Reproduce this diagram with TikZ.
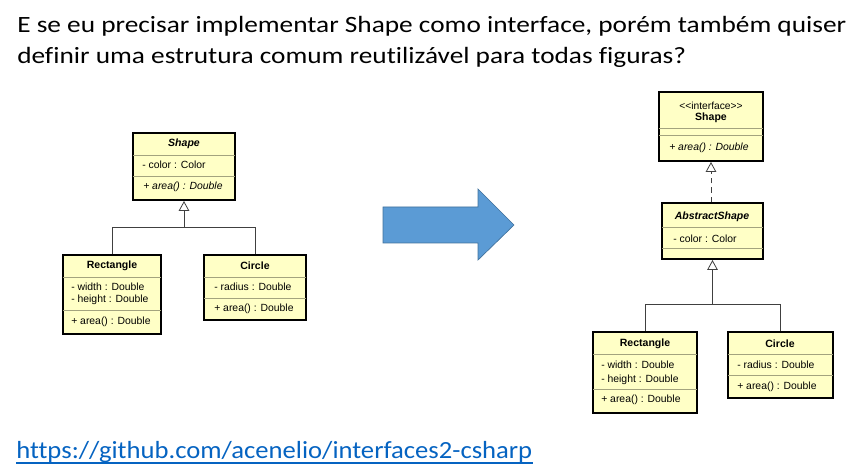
\documentclass[tikz,border=0pt]{standalone}
\usepackage{fontspec}
\setmainfont{Liberation Sans}
\newfontfamily\calibri[FakeStretch=1.17, Ligatures=NoCommon]{Carlito}
\newfontfamily\calibrilink[FakeStretch=1.08, Ligatures=NoCommon]{Carlito}
\usepackage{tikz}
\usetikzlibrary{positioning,fit,arrows.meta}
\usepackage{xcolor}
\definecolor{umlfill}{HTML}{FFFFC6}
\definecolor{umlsep}{HTML}{A3A37E}
\definecolor{linkblue}{HTML}{0563C1}
\definecolor{arrowfill}{HTML}{5B9BD5}
\definecolor{arrowline}{HTML}{41719C}

\begin{document}
\begin{tikzpicture}[x=0.75pt,y=-0.75pt,
  classbox/.style={draw=black, line width=1.5pt, fill=umlfill, inner sep=0pt},
  sepline/.style={umlsep, line width=0.6pt},
  ctitle/.style={font=\fontsize{7.9}{9}\selectfont\bfseries, inner sep=0pt},
  member/.style={font=\fontsize{7.8}{9}\selectfont, anchor=west, inner sep=0pt},
  inherit/.style={draw=black!75, line width=0.6pt},
  opentri/.style={-{Triangle[open, length=7.5pt, width=8pt]}}]
\useasboundingbox (0,0) rectangle (864,473);
% question
\node[anchor=base west, inner sep=0pt, font=\calibri\fontsize{17.5}{20}\selectfont] (line1) at (17,33) {E se eu precisar implementar Shape como interface, porém também quiser};
\node[anchor=base west, inner sep=0pt, font=\calibri\fontsize{17.5}{20}\selectfont] (line2) at (17,64) {definir uma estrutura comum reutilizável para todas figuras?};
% left: Shape
\node[classbox, fit={(133,133) (235,200)}] (shapeL) {};
\draw[sepline] (133,155) -- (235,155);
\draw[sepline] (133,176) -- (235,176);
\node[ctitle] (shapeLname) at (184,144) {\itshape Shape};
\node[member] (shapeLcolor) at (142,165) {- color : Color};
\node[member] (shapeLarea) at (143,187) {\itshape + area() : Double};
% left: Rectangle
\node[classbox, fit={(63,255) (161,334)}] (rectL) {};
\draw[sepline] (63,277) -- (161,277);
\draw[sepline] (63,310) -- (161,310);
\node[ctitle] (rectLname) at (112,266) {Rectangle};
\node[member] (rectLwidth) at (71,287) {- width : Double};
\node[member] (rectLheight) at (71,300) {- height : Double};
\node[member] (rectLarea) at (71,322) {+ area() : Double};
% left: Circle
\node[classbox, fit={(204,255) (306,320)}] (circL) {};
\draw[sepline] (204,277) -- (306,277);
\draw[sepline] (204,298) -- (306,298);
\node[ctitle] (circLname) at (255,266) {Circle};
\node[member] (circLradius) at (214,287) {- radius : Double};
\node[member] (circLarea) at (214,309) {+ area() : Double};
% left: inheritance
\coordinate (joinL) at (shapeL.south |- 0,227);
\draw[inherit] (rectL.north) |- (joinL);
\draw[inherit] (circL.north) |- (joinL);
\draw[inherit, opentri] (joinL) -- (shapeL.south);
% big arrow
\draw[fill=arrowfill, draw=arrowline, line width=0.5pt]
  (383,207) -- (478,207) -- (478,189) -- (514,225) -- (478,260) -- (478,243) -- (383,243) -- cycle;
% right: Shape interface
\node[classbox, fit={(659,92) (763,161)}] (shapeR) {};
\draw[sepline] (659,128) -- (763,128);
\draw[sepline] (659,135) -- (763,135);
\node[ctitle, font=\fontsize{7.7}{8}\selectfont] (shapeRstereo) at (711,106) {{<}{<}interface{>}{>}};
\node[ctitle] (shapeRname) at (711,118) {Shape};
\node[member] (shapeRarea) at (669,148) {\itshape + area() : Double};
% right: AbstractShape
\node[classbox, fit={(662,203) (763,259)}] (abstractR) {};
\draw[sepline] (662,227) -- (763,227);
\draw[sepline] (662,248) -- (763,248);
\node[ctitle] (abstractRname) at (712,217) {\itshape AbstractShape};
\node[member] (abstractRcolor) at (673,239) {- color : Color};
\draw[inherit, dashed, dash pattern=on 4pt off 3pt, opentri] (abstractR.north -| shapeR.south) -- (shapeR.south);
% right: Rectangle
\node[classbox, fit={(593,332) (697,413)}] (rectR) {};
\draw[sepline] (593,354) -- (697,354);
\draw[sepline] (593,389) -- (697,389);
\node[ctitle] (rectRname) at (645,344) {Rectangle};
\node[member] (rectRwidth) at (601,365) {- width : Double};
\node[member] (rectRheight) at (601,380) {- height : Double};
\node[member] (rectRarea) at (601,400) {+ area() : Double};
% right: Circle
\node[classbox, fit={(728,332) (833,398)}] (circR) {};
\draw[sepline] (728,354) -- (833,354);
\draw[sepline] (728,375) -- (833,375);
\node[ctitle] (circRname) at (780,344) {Circle};
\node[member] (circRradius) at (737,365) {- radius : Double};
\node[member] (circRarea) at (737,387) {+ area() : Double};
% right: inheritance
\coordinate (joinR) at (abstractR.south |- 0,304);
\draw[inherit] (rectR.north) |- (joinR);
\draw[inherit] (circR.north) |- (joinR);
\draw[inherit, opentri] (joinR) -- (abstractR.south);
% link
\node[anchor=base west, inner sep=0pt, text=linkblue, font=\calibrilink\fontsize{18.5}{21}\selectfont] (url) at (16,459) {https://github.com/acenelio/interfaces2-csharp};
\draw[linkblue, line width=2pt] ([yshift=-3pt]url.base west) -- ([yshift=-3pt]url.base east);
\end{tikzpicture}
\end{document}
